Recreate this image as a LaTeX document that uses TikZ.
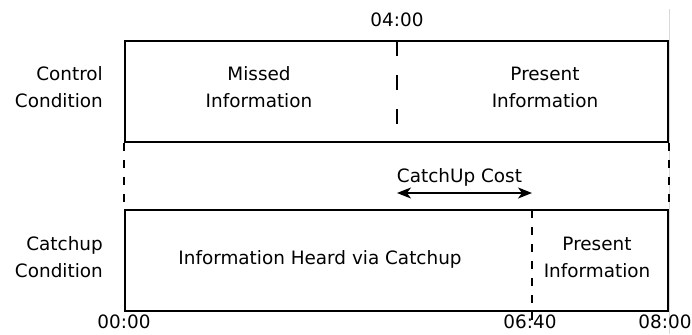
\documentclass[tikz,border=0pt]{standalone}
\usepackage{fontspec}
\setmainfont{DejaVu Sans}
\usetikzlibrary{arrows.meta}
\begin{document}
\begin{tikzpicture}[x=1pt,y=-1pt,
  >={Stealth[length=14pt,width=11pt,inset=4pt]},
  txt/.style={inner sep=0pt,font=\fontsize{18.4}{27}\selectfont},
  box/.style={draw,line width=1.6pt,inner sep=0pt,minimum width=543pt,minimum height=101pt},
  longdash/.style={line width=1.6pt,dash pattern=on 15pt off 19pt},
  shortdash/.style={line width=1.6pt,dash pattern=on 8pt off 9pt},
  faint/.style={line width=0.8pt,draw=black!15}]
\useasboundingbox (0,0) rectangle (692,334);
% faint right border line
\coordinate (f1) at (669,9);
\coordinate (f2) at (669,334);
\draw[faint] (f1) -- (f2);
% boxes
\node[box] (top) at (396.5,91.5) {};
\node[box] (bot) at (396.5,260.5) {};
% dashed markers
\coordinate (m4a) at (397,41);
\coordinate (m4b) at (397,142);
\draw[longdash] (m4a) -- (m4b);
\draw[shortdash] (top.south west) -- (bot.north west);
\draw[shortdash] (top.south east) -- (bot.north east);
\coordinate (m6a) at (532,210);
\coordinate (m6b) at (532,320);
\draw[shortdash] (m6a) -- (m6b);
% catchup cost arrow
\coordinate (ca) at (397,193);
\coordinate (cb) at (532,193);
\draw[line width=1.6pt,<->] (ca) -- (cb);
\node[txt,anchor=base] (cost) at (459.5,182) {CatchUp Cost};
% labels
\node[txt,anchor=base] (t4) at (397,27) {04:00};
\node[txt,anchor=base east] (cc1) at (103,80.5) {Control};
\node[txt,anchor=base east] (cc2) at (103,107.5) {Condition};
\node[txt,anchor=base] (mi1) at (259,80.5) {Missed};
\node[txt,anchor=base] (mi2) at (259,107.5) {Information};
\node[txt,anchor=base] (pi1) at (545,80.5) {Present};
\node[txt,anchor=base] (pi2) at (545,107.5) {Information};
\node[txt,anchor=base east] (kc1) at (103,250) {Catchup};
\node[txt,anchor=base east] (kc2) at (103,277) {Condition};
\node[txt,anchor=base] (ih) at (320,264) {Information Heard via Catchup};
\node[txt,anchor=base] (pb1) at (597,250.5) {Present};
\node[txt,anchor=base] (pb2) at (597,277.5) {Information};
\node[txt,anchor=base] (t0) at (124,328) {00:00};
\node[txt,anchor=base] (t6) at (530,328) {06:40};
\node[txt,anchor=base] (t8) at (665,328) {08:00};
\end{tikzpicture}
\end{document}
